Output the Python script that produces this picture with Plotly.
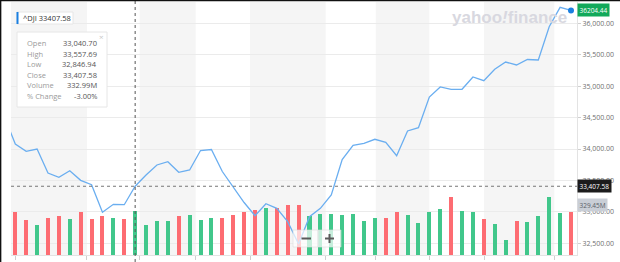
import plotly.graph_objects as go

# ---------------- data ----------------
day_index = list(range(53))
closes = [34509, 34080, 33964, 34000, 33618, 33550, 33655, 33502, 33432, 32993,
          33120, 33114, 33407.58, 33587, 33746, 33798, 33630, 33666, 33976, 33992,
          33642, 33396, 33149, 32939, 33130, 33057, 32844, 32489, 32923, 33057,
          33268, 33833, 34059, 34091, 34155, 34107, 33894, 34287, 34339, 34827,
          34987, 34950, 34950, 35146, 35087, 35268, 35384, 35337, 35424, 35416,
          35946, 36254, 36204.44]
volumes_m = [300, 329, 267, 229, 282, 299, 276, 322, 276, 294, 284, 276, 332.99,
             229, 254, 254, 292, 304, 267, 282, 284, 304, 324, 342, 354, 354,
             379, 379, 299, 307, 307, 301, 312, 261, 279, 279, 324, 301, 244,
             324, 345, 436, 335, 327, 269, 236, 115, 256, 251, 299, 436, 320, 329.45]
direction = ["down", "down", "down", "up", "down", "down", "up", "down", "down", "down",
             "up", "down", "up", "up", "up", "up", "down", "up", "up", "up",
             "down", "down", "down", "down", "up", "down", "down", "down", "up", "up",
             "up", "up", "up", "up", "up", "down", "down", "up", "up", "up",
             "up", "down", "up", "up", "down", "up", "up", "down", "up", "up",
             "up", "up", "down"]
price_ticks = [32500, 33000, 33500, 34000, 34500, 35000, 35500, 36000]
week_starts = [1.05, 7.58, 12.42, 17.56, 22.54, 29.49, 34.08, 39.0, 44.02, 50.47]
shaded_weeks = [(-1, 7.58), (12.42, 17.56), (22.54, 29.49), (34.08, 39.0), (44.02, 50.47)]

symbol = "^DJI"
hover_idx = 12
hover_rows = [("Open", "33,040.70"), ("High", "33,557.69"), ("Low", "32,846.94"),
              ("Close", "33,407.58"), ("Volume", "332.99M"), ("% Change", "-3.00%")]

# ---------------- layout geometry ----------------
W, H = 620, 262
L, R, T, B = 11, 43, 2, 7
PW, PH = W - L - R, H - T - B


def px(x):
    return (x - L) / PW


def py(y):
    return (H - B - y) / PH


UP, DOWN = "#41c78b", "#fd6c72"
bar_colors = [UP if d == "up" else DOWN for d in direction]

fig = go.Figure()
fig.add_trace(go.Bar(x=day_index, y=volumes_m, marker_color=bar_colors,
                     marker_line_width=0, width=0.37, yaxis="y", hoverinfo="skip"))
fig.add_trace(go.Scatter(x=day_index, y=closes, mode="lines", yaxis="y2",
                         line=dict(color="#6aaef0", width=1.3), hoverinfo="skip"))
fig.add_trace(go.Scatter(x=[day_index[-1]], y=[closes[-1]], mode="markers", yaxis="y2",
                         marker=dict(color="#1a7fe0", size=6), hoverinfo="skip",
                         cliponaxis=False))

shapes = []
for a, b in shaded_weeks:
    shapes.append(dict(type="rect", xref="x", yref="paper", x0=a, x1=b, y0=0, y1=1,
                       fillcolor="#f5f5f5", line_width=0, layer="below"))
# crosshair
shapes.append(dict(type="line", xref="x", yref="paper", x0=day_index[hover_idx],
                   x1=day_index[hover_idx], y0=py(262), y1=py(0),
                   line=dict(color="#555", width=1, dash="dot")))
shapes.append(dict(type="line", xref="paper", yref="y2", x0=0, x1=1,
                   y0=closes[hover_idx], y1=closes[hover_idx],
                   line=dict(color="#777", width=1, dash="dot")))
# frame edges (screenshot border)
shapes.append(dict(type="line", xref="paper", yref="paper", x0=px(0), x1=px(620),
                   y0=py(0.6), y1=py(0.6), line=dict(color="#111", width=1.5)))
shapes.append(dict(type="line", xref="paper", yref="paper", x0=px(0.6), x1=px(0.6),
                   y0=py(0), y1=py(262), line=dict(color="#111", width=1.5)))
# symbol box
shapes.append(dict(type="rect", xref="paper", yref="paper", x0=px(17), x1=px(73),
                   y0=py(24), y1=py(12), fillcolor="white",
                   line=dict(color="#e6e6e6", width=1)))
shapes.append(dict(type="rect", xref="paper", yref="paper", x0=px(16.5), x1=px(18.5),
                   y0=py(24), y1=py(12), fillcolor="#1a7fe0", line_width=0))
# tooltip box
shapes.append(dict(type="rect", xref="paper", yref="paper", x0=px(17), x1=px(107),
                   y0=py(107), y1=py(32), fillcolor="white",
                   line=dict(color="#e6e6e6", width=1)))
# zoom control
shapes.append(dict(type="rect", xref="paper", yref="paper", x0=px(293), x1=px(318),
                   y0=py(247), y1=py(230), fillcolor="rgba(255,255,255,0.7)",
                   line=dict(color="rgba(220,220,220,0.6)", width=1)))
shapes.append(dict(type="rect", xref="paper", yref="paper", x0=px(318), x1=px(341),
                   y0=py(247), y1=py(230), fillcolor="rgba(255,255,255,0.7)",
                   line=dict(color="rgba(220,220,220,0.6)", width=1)))
ZC = "#5a5a5a"
shapes.append(dict(type="line", xref="paper", yref="paper", x0=px(301.5), x1=px(311),
                   y0=py(238.5), y1=py(238.5), line=dict(color=ZC, width=2)))
shapes.append(dict(type="line", xref="paper", yref="paper", x0=px(325), x1=px(334),
                   y0=py(238.5), y1=py(238.5), line=dict(color=ZC, width=2)))
shapes.append(dict(type="line", xref="paper", yref="paper", x0=px(329.5), x1=px(329.5),
                   y0=py(234), y1=py(243), line=dict(color=ZC, width=2)))

FONT = "Open Sans"
ann = []
ann.append(dict(xref="paper", yref="paper", x=px(21), y=py(18), xanchor="left",
                yanchor="middle", text=f"{symbol} {closes[hover_idx]:.2f}", showarrow=False,
                font=dict(family=FONT, size=7.5, color="#333")))
row_y = [43, 53.5, 64, 74.5, 85, 95.5]
for (lab, val), yy in zip(hover_rows, row_y):
    ann.append(dict(xref="paper", yref="paper", x=px(25), y=py(yy), xanchor="left",
                    yanchor="middle", text=lab, showarrow=False,
                    font=dict(family=FONT, size=7.5, color="#9a9a9a")))
    ann.append(dict(xref="paper", yref="paper", x=px(98.5), y=py(yy), xanchor="right",
                    yanchor="middle", text=val, showarrow=False,
                    font=dict(family=FONT, size=7.5, color="#555")))
ann.append(dict(xref="paper", yref="paper", x=px(101.5), y=py(37), xanchor="center",
                yanchor="middle", text="×", showarrow=False,
                font=dict(family=FONT, size=8, color="#c8c8c8")))
# watermark
ann.append(dict(xref="paper", yref="paper", x=px(509), y=py(17), xanchor="center",
                yanchor="middle", text="yahoo<i>!</i>finance", showarrow=False,
                font=dict(family="Liberation Sans", size=17, color="#d8d8e0", weight="bold")))
# right-side value labels
ann.append(dict(xref="paper", yref="y2", x=px(577), y=closes[-1], xanchor="left",
                yanchor="middle", text=f"{closes[-1]:.2f}", showarrow=False,
                bgcolor="#12a95a", borderpad=1.5,
                font=dict(family=FONT, size=6.5, color="white")))
ann.append(dict(xref="paper", yref="y2", x=px(577), y=closes[hover_idx], xanchor="left",
                yanchor="middle", text=f"{closes[hover_idx]:,.2f}", showarrow=False,
                bgcolor="#1c1c1c", borderpad=1.5,
                font=dict(family=FONT, size=6.5, color="white")))
ann.append(dict(xref="paper", yref="y", x=px(577), y=volumes_m[-1], xanchor="left",
                yanchor="bottom", text=f"{volumes_m[-1]:.2f}M", showarrow=False,
                bgcolor="#c9ced6", borderpad=1.5,
                font=dict(family=FONT, size=6.5, color="#5a5f68")))

vol_top = PH * 7.574
fig.update_layout(
    width=W, height=H, margin=dict(l=L, r=R, t=T, b=B),
    paper_bgcolor="white", plot_bgcolor="white", showlegend=False,
    bargap=0, hovermode=False,
    xaxis=dict(range=[(L - 4.4) / 10.896, (W - R - 4.4) / 10.896], showgrid=False,
               zeroline=False, showline=True, linecolor="#e3e3e3", linewidth=1,
               tickmode="array", tickvals=week_starts, ticks="outside", ticklen=4,
               tickcolor="#cfcfcf", showticklabels=False),
    yaxis=dict(range=[0, vol_top], visible=False, showgrid=False, fixedrange=True),
    yaxis2=dict(range=[32313.9, 36338.9], overlaying="y", side="right",
                tickmode="array", tickvals=price_ticks,
                ticktext=[f"{v:,.2f}" for v in price_ticks],
                showgrid=True, gridcolor="#ebebeb", gridwidth=1, zeroline=False,
                showline=True, linecolor="#e3e3e3", ticks="outside", ticklen=3,
                tickcolor="#d0d0d0",
                tickfont=dict(family=FONT, size=7, color="#707070")),
    shapes=shapes, annotations=ann,
)

fig.write_html("out.html", config={"displayModeBar": False})
